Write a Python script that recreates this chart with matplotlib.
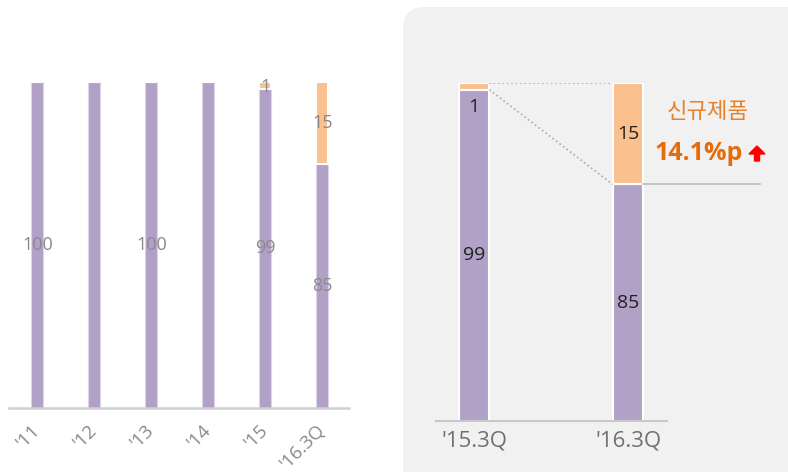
import matplotlib.pyplot as plt
from matplotlib.patches import FancyBboxPatch, FancyArrow
from matplotlib.transforms import IdentityTransform

plt.rcParams['font.family'] = ['Open Sans', 'Noto Sans CJK KR', 'DejaVu Sans']

# 왼쪽: 연도별 매출 비중 (그림에 그려진 막대 높이 기준)
years = ["'11", "'12", "'13", "'14", "'15", "'16.3Q"]
existing = [100, 100, 100, 100, 98, 75]
new = [0, 0, 0, 0, 2, 25]
existing_labels = ['100', '', '100', '', '99', '85']
new_labels = ['', '', '', '', '1', '15']

# 오른쪽: 분기 비교
quarters = ["'15.3Q", "'16.3Q"]
q_existing = [98, 70]
q_new = [2, 30]
q_existing_labels = ['99', '85']
q_new_labels = ['1', '15']

purple = '#b1a1c7'
orange = '#fac18f'

fig = plt.figure(figsize=(7.88, 4.72), dpi=100)

# 오른쪽 회색 배경 박스
bg = FancyBboxPatch((403, -40), 420, 505, boxstyle="round,pad=0,rounding_size=22",
                    transform=IdentityTransform(), fc='#f1f1f1', ec='none', zorder=-5)
fig.patches.append(bg)

# ---- 왼쪽 차트 ----
ax1 = fig.add_axes([9 / 788, 64 / 472, 340 / 788, 326 / 472])
ax1.patch.set_alpha(0)
x = range(len(years))
ax1.bar(x, existing, width=0.21, color=purple, edgecolor='#ddd3ea', linewidth=0.8)
ax1.bar(x, new, width=0.21, bottom=existing, color=orange, edgecolor='white', linewidth=1.5)
for i in x:
    if existing_labels[i]:
        ax1.text(i, existing[i] / 2, existing_labels[i], ha='center', va='center',
                 fontsize=13, color='#8a8a8a')
    if new_labels[i]:
        yy = existing[i] + new[i] / 2
        if new[i] < 5:
            yy = 98.5
        ax1.text(i, yy, new_labels[i], ha='center', va='center', fontsize=13, color='#8a8a8a')
ax1.set_xlim(-0.5, 5.47)
ax1.set_ylim(0, 100)
ax1.set_yticks([])
ax1.set_xticks(list(x))
ax1.set_xticklabels(years, rotation=45, ha='right', va='center', rotation_mode='anchor',
                    fontsize=13.5, color='#8a8a8a')
ax1.tick_params(axis='x', length=0, pad=14)
for s in ['top', 'right', 'left']:
    ax1.spines[s].set_visible(False)
ax1.spines['bottom'].set_color('#d0d0d0')
ax1.spines['bottom'].set_linewidth(1.8)

# ---- 오른쪽 차트 ----
ax2 = fig.add_axes([436 / 788, 51 / 472, 231 / 788, 338 / 472])
ax2.patch.set_alpha(0)
qx = [0, 1]
w = 0.2
ax2.bar(qx, q_existing, width=w, color=purple, edgecolor='white', linewidth=1.5)
ax2.bar(qx, q_new, width=w, bottom=q_existing, color=orange, edgecolor='white', linewidth=1.5)
ax2.text(0, q_existing[0] / 2, q_existing_labels[0], ha='center', va='center', fontsize=14, color='#222222')
ax2.text(0, 93, q_new_labels[0], ha='center', va='center', fontsize=14, color='#222222')
ax2.text(1, q_existing[1] / 2, q_existing_labels[1], ha='center', va='center', fontsize=14, color='#222222')
ax2.text(1, q_existing[1] + q_new[1] / 2, q_new_labels[1], ha='center', va='center', fontsize=14, color='#222222')

# 점선 연결
ax2.plot([w / 2, 1 - w / 2], [100, 100], ls=':', color='#aaaaaa', lw=1.2)
ax2.plot([w / 2, 1 - w / 2], [q_existing[0], q_existing[1]], ls=':', color='#aaaaaa', lw=1.2)
ax2.plot([1 + w / 2, 1.86], [q_existing[1], q_existing[1]], color='#bbbbbb', lw=1.2, clip_on=False)

ax2.set_xlim(-0.247, 1.253)
ax2.set_ylim(0, 100)
ax2.set_yticks([])
ax2.set_xticks(qx)
ax2.set_xticklabels(quarters, fontsize=16, color='#707070')
ax2.tick_params(axis='x', length=0, pad=7)
for s in ['top', 'right', 'left']:
    ax2.spines[s].set_visible(False)
ax2.spines['bottom'].set_color('#c8c8c8')
ax2.spines['bottom'].set_linewidth(1.5)

fig.text(708 / 788, 1 - 112 / 472, '신규제품', ha='center', va='center',
         fontsize=16, color='#e8822a', family=['Noto Sans CJK KR', 'DejaVu Sans'])
fig.text(655 / 788, 1 - 154 / 472, '14.1%p', ha='left', va='center',
         fontsize=18, fontweight='bold', color='#e46c0a')
arrow = FancyArrow(757, 472 - 161, 0, 15, width=5, head_width=16, head_length=8,
                   length_includes_head=True, color='#ff0000', transform=IdentityTransform())
fig.patches.append(arrow)

fig.savefig('out.png', dpi=100)
